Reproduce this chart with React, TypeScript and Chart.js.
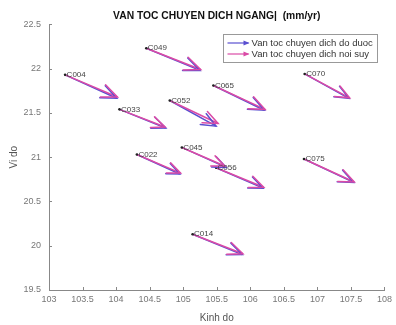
import React, { useEffect, useRef } from "react";
import { Chart, registerables } from "chart.js";

Chart.register(...registerables);

const stations = ["C004", "C049", "C033", "C052", "C065", "C070", "C045", "C056", "C075", "C022", "C014"];
const startLon = [103.24, 104.45, 104.05, 104.8, 105.45, 106.81, 104.98, 105.49, 106.8, 104.31, 105.14];
const startLat = [21.93, 22.23, 21.54, 21.64, 21.81, 21.94, 21.11, 20.88, 20.98, 21.03, 20.13];
const measuredEndLon = [104.01, 105.25, 104.74, 105.49, 106.21, 107.47, 105.64, 106.19, 107.54, 104.95, 105.88];
const measuredEndLat = [21.665, 21.98, 21.33, 21.35, 21.53, 21.665, 20.885, 20.65, 20.715, 20.81, 19.9];
const interpEndLon = [104.02, 105.26, 104.73, 105.52, 106.22, 107.48, 105.62, 106.2, 107.55, 104.96, 105.89];
const interpEndLat = [21.68, 21.99, 21.34, 21.38, 21.54, 21.67, 20.9, 20.66, 20.72, 20.82, 19.91];

const seriesLabels = ["Van toc chuyen dich do duoc", "Van toc chuyen dich noi suy"];
const seriesColors = ["#5a4fd0", "#da4aa6"];
const titleText = "VAN TOC CHUYEN DICH NGANG|  (mm/yr)";
const xTitle = "Kinh do";
const yTitle = "Vi do";
const xRange = [103, 108];
const yRange = [19.5, 22.5];
const tickStep = 0.5;

const FONT = '"Liberation Sans", Arial, sans-serif';

function vectorData(endLon: number[], endLat: number[]) {
  const out: { x: number; y: number | null }[] = [];
  stations.forEach((_, i) => {
    out.push({ x: startLon[i], y: startLat[i] });
    out.push({ x: endLon[i], y: endLat[i] });
    out.push({ x: endLon[i], y: null });
  });
  return out;
}

const overlayPlugin = {
  id: "overlay",
  afterDatasetsDraw(chart: any) {
    const ctx = chart.ctx as CanvasRenderingContext2D;
    [0, 1].forEach((di) => {
      const meta = chart.getDatasetMeta(di);
      const ds = chart.data.datasets[di];
      ctx.save();
      ctx.strokeStyle = ds.borderColor;
      ctx.lineWidth = ds.borderWidth;
      ctx.lineCap = "round";
      for (let i = 0; i + 1 < meta.data.length; i += 3) {
        const a = meta.data[i];
        const b = meta.data[i + 1];
        const ang = Math.atan2(b.y - a.y, b.x - a.x);
        const len = Math.hypot(b.x - a.x, b.y - a.y);
        const L = len * 0.3;
        const phi = 0.4;
        ctx.beginPath();
        ctx.moveTo(b.x - L * Math.cos(ang - phi), b.y - L * Math.sin(ang - phi));
        ctx.lineTo(b.x, b.y);
        ctx.lineTo(b.x - L * Math.cos(ang + phi), b.y - L * Math.sin(ang + phi));
        ctx.stroke();
      }
      ctx.restore();
    });
    const sm = chart.getDatasetMeta(2);
    ctx.save();
    ctx.font = "8px " + FONT;
    ctx.fillStyle = "#444";
    ctx.textBaseline = "middle";
    ctx.textAlign = "left";
    stations.forEach((s, i) => {
      const p = sm.data[i];
      ctx.fillText(s, p.x + 1.5, p.y);
    });
    ctx.restore();
  },
  afterDraw(chart: any) {
    const ctx = chart.ctx as CanvasRenderingContext2D;
    const { x, y } = chart.scales;
    const area = chart.chartArea;
    ctx.save();
    ctx.strokeStyle = "#888";
    ctx.lineWidth = 1;
    x.ticks.forEach((t: any) => {
      const px = Math.round(x.getPixelForValue(t.value)) + 0.5;
      ctx.beginPath();
      ctx.moveTo(px, area.bottom);
      ctx.lineTo(px, area.bottom - 3);
      ctx.stroke();
    });
    y.ticks.forEach((t: any) => {
      const py = Math.round(y.getPixelForValue(t.value)) + 0.5;
      ctx.beginPath();
      ctx.moveTo(area.left, py);
      ctx.lineTo(area.left + 3, py);
      ctx.stroke();
    });
    ctx.restore();
    const lx = 223.5, ly = 34.5, lw = 154, lh = 28;
    ctx.save();
    ctx.fillStyle = "#fff";
    ctx.fillRect(lx, ly, lw, lh);
    ctx.strokeStyle = "#999";
    ctx.lineWidth = 1;
    ctx.strokeRect(lx, ly, lw, lh);
    [0, 1].forEach((di) => {
      const ds = chart.data.datasets[di];
      const yy = ly + 8.5 + di * 11;
      const x0 = lx + 4, x1 = lx + 25;
      ctx.strokeStyle = ds.borderColor;
      ctx.lineWidth = 1.2;
      ctx.beginPath();
      ctx.moveTo(x0, yy);
      ctx.lineTo(x1, yy);
      ctx.stroke();
      ctx.fillStyle = ds.borderColor;
      ctx.beginPath();
      ctx.moveTo(x1 + 1, yy);
      ctx.lineTo(x1 - 5, yy - 2.5);
      ctx.lineTo(x1 - 5, yy + 2.5);
      ctx.closePath();
      ctx.fill();
      ctx.fillStyle = "#333";
      ctx.font = "9.5px " + FONT;
      ctx.textBaseline = "middle";
      ctx.textAlign = "left";
      ctx.fillText(ds.label, lx + 28, yy);
    });
    ctx.restore();
  },
};

export default function App() {
  const ref = useRef<HTMLCanvasElement | null>(null);
  useEffect(() => {
    document.body.style.margin = "0";
    if (!ref.current) return;
    const chart = new Chart(ref.current, {
      type: "scatter",
      data: {
        datasets: [
          {
            label: seriesLabels[0],
            data: vectorData(measuredEndLon, measuredEndLat),
            showLine: true,
            borderColor: seriesColors[0],
            backgroundColor: seriesColors[0],
            borderWidth: 1.5,
            pointRadius: 0,
            spanGaps: false,
            order: 2,
          },
          {
            label: seriesLabels[1],
            data: vectorData(interpEndLon, interpEndLat),
            showLine: true,
            borderColor: seriesColors[1],
            backgroundColor: seriesColors[1],
            borderWidth: 1.5,
            pointRadius: 0,
            spanGaps: false,
            order: 1,
          },
          {
            label: "stations",
            data: stations.map((_, i) => ({ x: startLon[i], y: startLat[i] })),
            showLine: false,
            pointRadius: 1.3,
            borderWidth: 0,
            backgroundColor: "#222",
            order: 0,
          },
        ],
      },
      options: {
        responsive: false,
        animation: false,
        layout: { padding: { left: 0, right: 8, top: 0, bottom: 0 } },
        plugins: {
          legend: { display: false },
          tooltip: { enabled: false },
          title: {
            display: true,
            fullSize: false,
            text: titleText,
            color: "#111",
            font: { family: FONT, size: 10.3, weight: "bold" },
            padding: { top: 10, bottom: 2 },
          },
        },
        scales: {
          x: {
            type: "linear",
            min: xRange[0],
            max: xRange[1],
            grid: { display: false, drawTicks: false },
            border: { display: true, color: "#888", width: 1 },
            ticks: {
              stepSize: tickStep,
              color: "#777",
              font: { family: FONT, size: 9 },
              padding: 4,
              maxRotation: 0,
              autoSkip: false,
              callback: (v: any) => String(v),
            },
            title: {
              display: true,
              text: xTitle,
              color: "#555",
              font: { family: FONT, size: 10 },
              padding: { top: 0, bottom: 1 },
            },
            afterFit: (s: any) => {
              s.height = 35;
            },
          },
          y: {
            type: "linear",
            min: yRange[0],
            max: yRange[1],
            grid: { display: false, drawTicks: false },
            border: { display: true, color: "#888", width: 1 },
            ticks: {
              stepSize: tickStep,
              color: "#777",
              font: { family: FONT, size: 9 },
              padding: 8,
              autoSkip: false,
              callback: (v: any) => String(v),
            },
            title: {
              display: true,
              text: yTitle,
              color: "#555",
              font: { family: FONT, size: 10 },
              padding: { top: 8, bottom: 0 },
            },
            afterFit: (s: any) => {
              s.width = 49;
            },
          },
        },
      },
      plugins: [overlayPlugin],
    } as any);
    return () => chart.destroy();
  }, []);
  return (
    <canvas
      ref={ref}
      width={396}
      height={325}
      style={{ display: "block", width: "396px", height: "325px" }}
    />
  );
}
